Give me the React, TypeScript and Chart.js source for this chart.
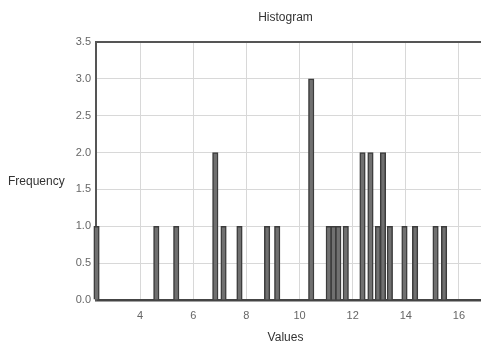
import React, { useEffect, useRef } from "react";
import { Chart, registerables } from "chart.js";

Chart.register(...registerables);

const binPositions: number[] = [2.36, 4.61, 5.36, 6.83, 7.14, 7.74, 8.78, 9.16, 10.44, 11.1, 11.28, 11.46, 11.74, 12.37, 12.67, 12.95, 13.14, 13.4, 13.95, 14.35, 15.12, 15.44];
const binCounts: number[] = [1, 1, 1, 2, 1, 1, 1, 1, 3, 1, 1, 1, 1, 2, 2, 1, 2, 1, 1, 1, 1, 1];
const xTickValues: number[] = [4, 6, 8, 10, 12, 14, 16];
const chartTitle = "Histogram";
const xTitle = "Values";
const yTitle = "Frequency";

const FONT = "'Liberation Sans', Arial, sans-serif";

const labelsPlugin = {
  id: "customLabels",
  afterDraw(chart: any) {
    const ctx = chart.ctx;
    const area = chart.chartArea;
    const cx = (area.left + area.right) / 2 - 3;
    ctx.save();
    ctx.fillStyle = "#333";
    ctx.font = `12px ${FONT}`;
    ctx.textAlign = "center";
    ctx.textBaseline = "middle";
    ctx.fillText(chartTitle, cx, 18);
    ctx.fillText(xTitle, cx, 338);
    ctx.textAlign = "left";
    ctx.fillText(yTitle, 8, 182);
    ctx.restore();
  },
};

export default function App() {
  const ref = useRef<HTMLCanvasElement>(null);
  useEffect(() => {
    if (!ref.current) return;
    const chart = new Chart(ref.current, {
      type: "bar",
      data: {
        datasets: [
          {
            data: binPositions.map((x, i) => ({ x, y: binCounts[i] })),
            backgroundColor: "#707070",
            borderColor: "#3c3c3c",
            borderWidth: 1.5,
            barThickness: 5.5,
            clip: false,
          } as any,
        ],
      },
      options: {
        animation: false,
        responsive: false,
        layout: { padding: { top: 42, left: 0, right: 0, bottom: 0 } },
        plugins: {
          legend: { display: false },
          title: { display: false },
          tooltip: { enabled: false },
        },
        scales: {
          x: {
            type: "linear",
            offset: false,
            min: 2.34,
            max: 16.83,
            afterBuildTicks: (axis: any) => {
              axis.ticks = xTickValues.map((v) => ({ value: v }));
            },
            afterFit: (axis: any) => {
              axis.height = 45;
            },
            ticks: {
              color: "#666",
              font: { family: FONT, size: 11 },
              maxRotation: 0,
              padding: 9,
            },
            grid: { color: "#d8d8d8", drawTicks: false, offset: false },
            border: { color: "#444", width: 2.5 },
          },
          y: {
            min: 0,
            max: 3.5,
            ticks: {
              stepSize: 0.5,
              color: "#666",
              font: { family: FONT, size: 11 },
              padding: 5,
              callback: (v: any) => Number(v).toFixed(1),
            },
            afterFit: (axis: any) => {
              axis.width = 96;
            },
            grid: {
              color: (c: any) => (c.tick && c.tick.value === 3.5 ? "#555" : "#d8d8d8"),
              lineWidth: (c: any) => (c.tick && c.tick.value === 3.5 ? 2 : 1),
              drawTicks: false,
            },
            border: { color: "#555", width: 2 },
          },
        },
      },
      plugins: [labelsPlugin],
    });
    return () => chart.destroy();
  }, []);
  return (
    <div style={{ position: "absolute", left: 0, top: 0, width: 481, height: 345, background: "#fff" }}>
      <canvas ref={ref} width={481} height={345} />
    </div>
  );
}
